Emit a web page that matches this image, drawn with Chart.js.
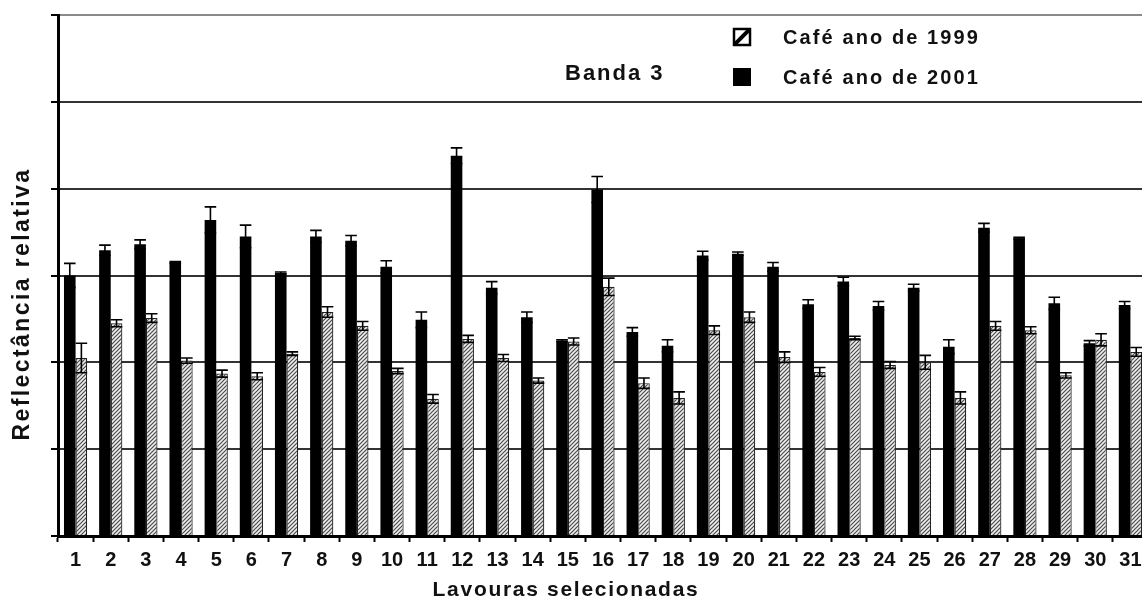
<!DOCTYPE html>
<html>
<head>
<meta charset="utf-8">
<script src="https://cdn.jsdelivr.net/npm/chart.js@4.4.1/dist/chart.umd.min.js"></script>
<style>
  html, body { margin: 0; padding: 0; background: #fff; overflow: hidden; }
  #wrap { width: 1152px; height: 600px; position: relative; }
</style>
</head>
<body>
<div id="wrap"><canvas id="chartBanda"></canvas></div>
<script>
// lavouras (fields) 1..31
const labels = ['1','2','3','4','5','6','7','8','9','10','11','12','13','14','15','16',
  '17','18','19','20','21','22','23','24','25','26','27','28','29','30','31'];

// relative reflectance, band 3
const cafe2001 = [3.00, 3.29, 3.36, 3.15, 3.64, 3.45, 3.03, 3.45, 3.40, 3.10, 2.49, 4.38, 2.86, 2.52, 2.25, 3.99,
  2.35, 2.19, 3.23, 3.25, 3.10, 2.67, 2.93, 2.65, 2.86, 2.18, 3.55, 3.43, 2.68, 2.22, 2.66];
const cafe1999 = [2.05, 2.45, 2.51, 2.02, 1.87, 1.84, 2.10, 2.58, 2.42, 1.90, 1.58, 2.27, 2.05, 1.79, 2.24, 2.87,
  1.76, 1.59, 2.37, 2.52, 2.06, 1.89, 2.28, 1.97, 2.00, 1.59, 2.42, 2.37, 1.85, 2.26, 2.12];

// standard error (half length of the error bars)
const err2001 = [0.14, 0.06, 0.05, 0.01, 0.15, 0.13, 0.01, 0.07, 0.06, 0.07, 0.09, 0.09, 0.07, 0.06, 0.01, 0.15,
  0.05, 0.07, 0.05, 0.02, 0.05, 0.05, 0.05, 0.05, 0.04, 0.08, 0.05, 0.01, 0.07, 0.03, 0.04];
const err1999 = [0.17, 0.04, 0.05, 0.03, 0.04, 0.04, 0.02, 0.06, 0.05, 0.03, 0.05, 0.04, 0.04, 0.03, 0.04, 0.10,
  0.06, 0.07, 0.05, 0.06, 0.06, 0.05, 0.02, 0.04, 0.08, 0.07, 0.05, 0.04, 0.03, 0.07, 0.05];

const FONT = '"Liberation Sans", Arial, sans-serif';

// hatch pattern for 1999 bars
function makeHatch() {
  const c = document.createElement('canvas');
  c.width = 4; c.height = 4;
  const g = c.getContext('2d');
  g.fillStyle = '#eeeeee';
  g.fillRect(0, 0, 4, 4);
  g.strokeStyle = '#4a4a4a';
  g.lineWidth = 1.2;
  g.beginPath();
  g.moveTo(-1, 5); g.lineTo(5, -1);
  g.moveTo(-1, 1); g.lineTo(1, -1);
  g.moveTo(3, 5); g.lineTo(5, 3);
  g.stroke();
  return g.createPattern(c, 'repeat');
}
const hatch = makeHatch();

const errorBars = {
  id: 'errorBars',
  afterDatasetsDraw(chart) {
    const { ctx, scales: { y } } = chart;
    const errs = [err2001, err1999];
    ctx.save();
    ctx.strokeStyle = '#000';
    ctx.lineWidth = 1.6;
    chart.data.datasets.forEach((ds, i) => {
      const meta = chart.getDatasetMeta(i);
      meta.data.forEach((bar, j) => {
        const v = ds.data[j];
        const e = errs[i][j];
        const yTop = y.getPixelForValue(v + e);
        const yBot = y.getPixelForValue(v - e);
        const half = bar.width / 2;
        ctx.beginPath();
        ctx.moveTo(bar.x, yTop); ctx.lineTo(bar.x, yBot);
        ctx.moveTo(bar.x - half, yTop); ctx.lineTo(bar.x + half, yTop);
        ctx.moveTo(bar.x - half, yBot); ctx.lineTo(bar.x + half, yBot);
        ctx.stroke();
      });
    });
    ctx.restore();
  }
};

const annotations = {
  id: 'annotations',
  afterDraw(chart) {
    const { ctx } = chart;
    ctx.save();
    ctx.fillStyle = '#111';
    ctx.textBaseline = 'middle';
    ctx.textAlign = 'left';

    // title inside plot
    ctx.font = 'bold 22px ' + FONT;
    ctx.letterSpacing = '2px';
    ctx.fillText('Banda 3', 565, 74);

    // legend swatches
    ctx.fillStyle = '#fff';
    ctx.fillRect(734, 29, 16, 16);
    ctx.save();
    ctx.beginPath();
    ctx.rect(734, 29, 16, 16);
    ctx.clip();
    ctx.strokeStyle = '#000';
    ctx.lineWidth = 4;
    ctx.beginPath();
    ctx.moveTo(732, 47); ctx.lineTo(752, 27);
    ctx.stroke();
    ctx.restore();
    ctx.strokeStyle = '#000';
    ctx.lineWidth = 2.5;
    ctx.strokeRect(734, 29, 16, 16);
    ctx.fillStyle = '#000';
    ctx.fillRect(733, 68, 18, 18);

    // legend text
    ctx.fillStyle = '#111';
    ctx.font = 'bold 20px ' + FONT;
    ctx.letterSpacing = '2.1px';
    ctx.fillText('Café ano de 1999', 783, 38);
    ctx.fillText('Café ano de 2001', 783, 78);

    // axis titles
    ctx.textAlign = 'center';
    ctx.font = 'bold 21px ' + FONT;
    ctx.letterSpacing = '1.7px';
    ctx.fillText('Lavouras selecionadas', 566, 590);
    ctx.translate(23, 304);
    ctx.rotate(-Math.PI / 2);
    ctx.font = 'bold 23px ' + FONT;
    ctx.letterSpacing = '2.4px';
    ctx.fillText('Reflectância relativa', 0, 0);
    ctx.restore();
  }
};

const config = {
  type: 'bar',
  data: {
    labels,
    datasets: [
      {
        label: 'Café ano de 2001',
        data: cafe2001,
        backgroundColor: '#000',
        borderColor: '#000',
        borderWidth: 0,
        barPercentage: 1,
        categoryPercentage: 0.66
      },
      {
        label: 'Café ano de 1999',
        data: cafe1999,
        backgroundColor: hatch,
        borderColor: '#222',
        borderWidth: 1.2,
        barPercentage: 1,
        categoryPercentage: 0.66
      }
    ]
  },
  options: {
    responsive: true,
    maintainAspectRatio: false,
    animation: false,
    layout: { padding: { top: 15, right: 4, left: 0, bottom: 0 } },
    plugins: {
      legend: { display: false },
      tooltip: { enabled: false }
    },
    scales: {
      x: {
        grid: {
          drawOnChartArea: false,
          drawTicks: true,
          tickLength: 6,
          tickColor: '#000',
          tickWidth: 2
        },
        border: { color: '#000', width: 3 },
        ticks: {
          color: '#111',
          padding: 6,
          maxRotation: 0,
          autoSkip: false,
          font: { family: FONT, size: 20, weight: 'bold' }
        },
        afterFit: (scale) => { scale.height = 64; }
      },
      y: {
        min: 0,
        max: 6,
        ticks: { stepSize: 1, display: false },
        grid: {
          color: (ctx) => ctx.tick && ctx.tick.value === 6 ? '#8a8a8a' : '#333',
          lineWidth: 2,
          tickLength: 7,
          tickColor: '#000',
          tickWidth: 2
        },
        border: { color: '#000', width: 3 },
        afterFit: (scale) => { scale.width = 58; }
      }
    }
  },
  plugins: [errorBars, annotations]
};

const chartBanda = new Chart(document.getElementById('chartBanda'), config);
</script>
</body>
</html>
